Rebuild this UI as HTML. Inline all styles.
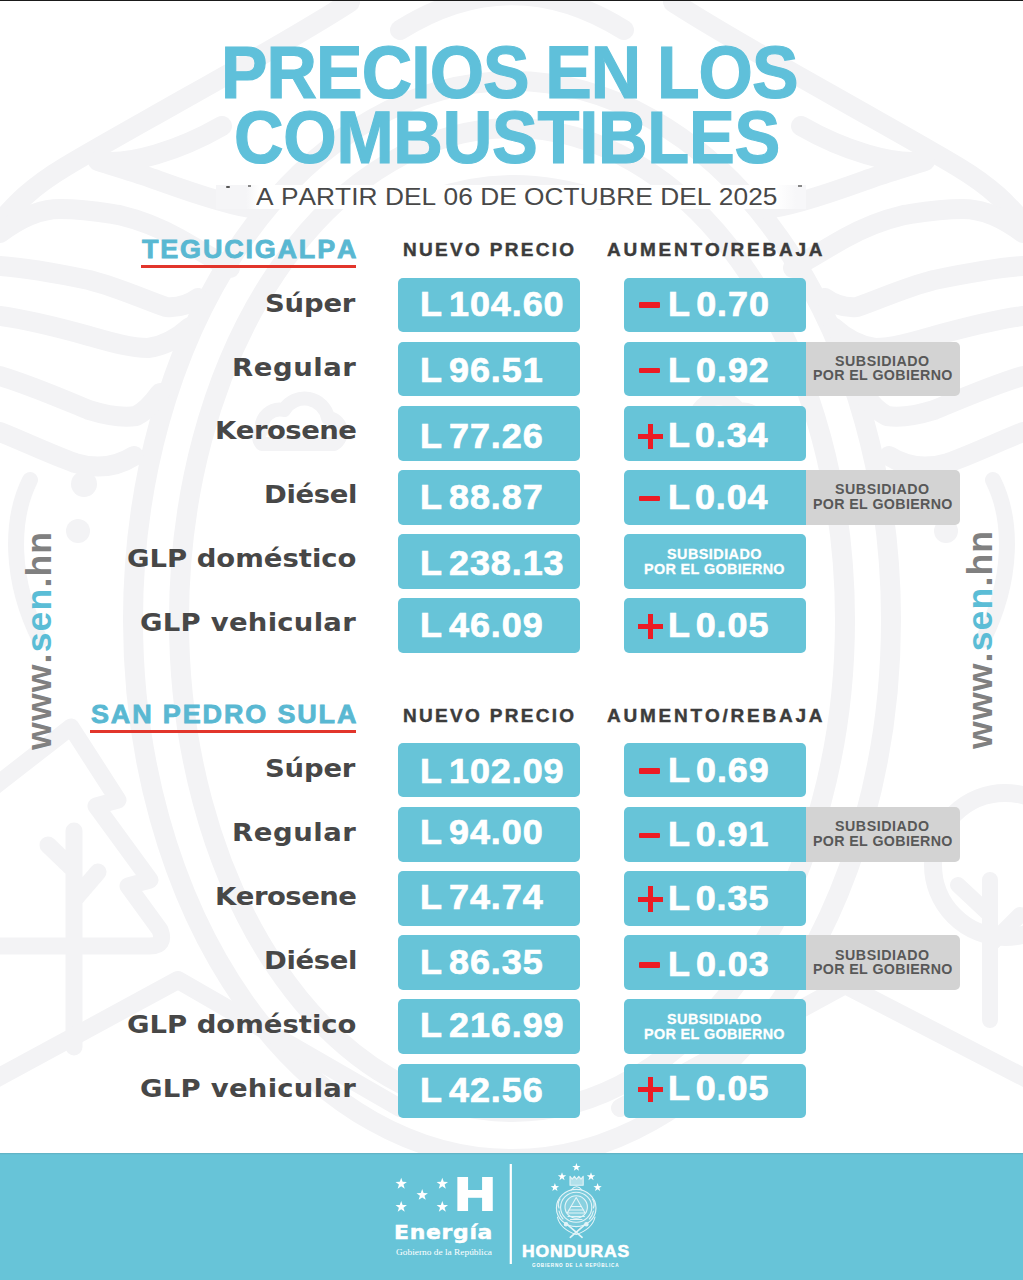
<!DOCTYPE html>
<html lang="es"><head><meta charset="utf-8"><title>Precios en los combustibles</title>
<style>
html,body{margin:0;padding:0}
body{width:1023px;height:1280px;position:relative;overflow:hidden;background:#fff;font-family:"Liberation Sans",sans-serif}
.t{position:absolute;white-space:nowrap;line-height:1;margin:0;padding:0;font-kerning:none;transform-origin:0 0}
.ls{font-family:"Liberation Sans",sans-serif;font-weight:400}
.lsb{font-family:"Liberation Sans",sans-serif;font-weight:700}
.djb{font-family:"DejaVu Sans","Liberation Sans",sans-serif;font-weight:700}
.dj{font-family:"DejaVu Sans","Liberation Sans",sans-serif;font-weight:400}
.ser{font-family:"Liberation Serif",serif;font-weight:400}
.bx{position:absolute;background:#67c4d8;border-radius:5px}
.gx{position:absolute;background:#d3d3d3;border-radius:0 5px 5px 0}
.rl{position:absolute;background:#e2352b}
.mn{position:absolute;background:#ec1c24}
.rot{position:absolute;width:0;height:0;transform:rotate(-90deg);transform-origin:0 0}
.wm{position:absolute;left:0;top:0}
.topline{position:absolute;left:0;top:0;width:1023px;height:1px;background:#1a1a1a}
.foot{position:absolute;left:0;top:1152.6px;width:1023px;height:128px;background:#67c4d8;box-shadow:inset 0 1.2px 0 #62b4c6}
</style></head><body>

<svg class="wm" width="1023" height="1280" viewBox="0 0 1023 1280">
<g fill="none" stroke="#f3f3f5" stroke-width="20" stroke-linecap="round" stroke-linejoin="round">
<ellipse cx="512" cy="620" rx="379" ry="539"/>
<ellipse cx="512" cy="620" rx="333" ry="492"/>
<g id="wmL">
<path d="M350 2 C310 28 250 62 184 99 C140 124 100 146 65 167 S15 205 0 222"/>
<path d="M222 126 C180 150 130 166 98 161 C120 168 140 174 154 179 S230 207 258 209"/>
<path d="M0 233 C20 218 40 209 60 209 C85 209 100 212 119 215 C140 220 160 228 178 238 S215 260 230 268"/>
<path d="M0 266 C30 268 60 274 89 280 C120 288 145 300 166 307 C180 308 190 304 198 298"/>
<path d="M0 316 C30 320 60 328 89 336 C110 342 130 348 148 348 C165 346 180 336 190 327"/>
<path d="M0 376 C30 385 60 398 89 410 C105 415 122 418 136 416 C148 410 155 400 160 393"/>
<path d="M0 432 C25 442 50 454 75 463 C95 469 115 468 134 456"/>
<path d="M262 430 a18 18 0 0 1 22 -20 a24 24 0 0 1 44 8 a14 14 0 0 1 6 26 h-72 a10 10 0 0 1 0 -14z" stroke-width="14"/>
<path d="M30 480 C10 520 10 580 40 640" stroke-width="16"/>
</g>
<use href="#wmL" transform="translate(1023 0) scale(-1 1)"/>
<path d="M-10 790 L71 727 L118 800 L96 806 L150 880 L128 886 L160 930 Q166 946 150 946 H-10" stroke-width="17"/>
<path d="M74 831 V1047 M74 870 L48 845 M74 900 L98 872" stroke-width="17"/>
<circle cx="1005" cy="865" r="72" stroke-width="18"/>
<path d="M990 880 V1020 M990 915 L958 885 M990 945 L1020 915" stroke-width="16"/>
<path d="M-10 1082 L178 980 L400 1108" stroke-width="18"/>
<path d="M620 1108 L845 985 L1033 1082" stroke-width="18"/>
<path d="M400 30 Q512 -40 624 30 M430 200 Q512 170 600 200" />
</g>
<g fill="#f3f3f5"><circle cx="84" cy="484" r="13"/><circle cx="78" cy="531" r="12"/><circle cx="940" cy="484" r="13"/><circle cx="946" cy="531" r="12"/></g>
</svg>
<div class="topline"></div>
<h1 class="t lsb" style="left:220.53px;top:36.06px;font-size:73.84px;color:#5fc0da;letter-spacing:-0.963px;transform:scale(0.9450,1.0000);word-spacing:-2.00px;-webkit-text-stroke:1.20px #5fc0da;">PRECIOS EN LOS</h1>
<h1 class="t lsb" style="left:234.28px;top:101.36px;font-size:73.84px;color:#5fc0da;letter-spacing:-0.298px;transform:scale(0.9300,1.0000);-webkit-text-stroke:1.20px #5fc0da;">COMBUSTIBLES</h1>
<div style="position:absolute;left:216px;top:185px;width:590px;height:24px;background:linear-gradient(90deg,#f5f5f7 0,#f5f5f7 30px,#fff 44px,#fff 560px,#f7f7f9 580px)"></div>
<div style="position:absolute;left:226px;top:185.5px;width:4px;height:2px;border-radius:1px;background:#555"></div><div style="position:absolute;left:248px;top:185px;width:3px;height:1.5px;background:#888"></div><div style="position:absolute;left:798px;top:185px;width:4px;height:1.5px;background:#888"></div>
<p class="t ls" style="left:255.55px;top:185.80px;font-size:23.26px;color:#484848;letter-spacing:0.042px;transform:scale(1.1300,1.0000);">A PARTIR DEL 06 DE OCTUBRE DEL 2025</p>
<!-- TEGUCIGALPA -->
<h2 class="t lsb" style="left:141.60px;top:236.66px;font-size:25.44px;color:#59b8d2;letter-spacing:1.716px;transform:scale(1.0600,1.0000);-webkit-text-stroke:0.80px #59b8d2;">TEGUCIGALPA</h2>
<div class="rl" style="left:141px;top:264.5px;width:215px;height:3px"></div>
<div class="t lsb" style="left:402.93px;top:242.30px;font-size:17.59px;color:#3c3c3c;letter-spacing:2.148px;transform:scale(1.0800,1.0000);-webkit-text-stroke:0.40px #3c3c3c;">NUEVO PRECIO</div>
<div class="t lsb" style="left:606.73px;top:242.30px;font-size:17.59px;color:#3c3c3c;letter-spacing:2.577px;transform:scale(1.0800,1.0000);-webkit-text-stroke:0.40px #3c3c3c;">AUMENTO/REBAJA</div>
<div class="bx" style="left:398.2px;top:277.5px;width:181.6px;height:54.8px"></div>
<div class="bx" style="left:623.7px;top:277.5px;width:182.2px;height:54.8px"></div>
<div class="t djb" style="left:265.23px;top:291.57px;font-size:24.97px;color:#474747;letter-spacing:-0.183px;transform:scale(1.1000,1.0000);">Súper</div>
<div class="t lsb" style="left:419.85px;top:286.70px;font-size:34.88px;color:#fff;letter-spacing:0.900px;transform:scale(1.0300,1.0000);word-spacing:-4.60px;-webkit-text-stroke:0.70px #fff;">L 104.60</div>
<div class="mn" style="left:639.4px;top:302.2px;width:20.3px;height:5.4px;border-radius:1px"></div>
<div class="t lsb" style="left:668.45px;top:286.70px;font-size:34.88px;color:#fff;letter-spacing:0.900px;transform:scale(1.0300,1.0000);word-spacing:-5.45px;-webkit-text-stroke:0.70px #fff;">L 0.70</div>
<div class="bx" style="left:398.2px;top:341.6px;width:181.6px;height:54.8px"></div>
<div class="bx" style="left:623.7px;top:341.6px;width:182.2px;height:54.8px;border-radius:5px 0 0 5px"></div>
<div class="t djb" style="left:231.68px;top:355.52px;font-size:24.97px;color:#474747;letter-spacing:0.520px;transform:scale(1.1000,1.0000);">Regular</div>
<div class="t lsb" style="left:419.85px;top:353.05px;font-size:34.88px;color:#fff;letter-spacing:0.900px;transform:scale(1.0300,1.0000);word-spacing:-4.60px;-webkit-text-stroke:0.70px #fff;">L 96.51</div>
<div class="mn" style="left:639.4px;top:368.1px;width:20.3px;height:5.4px;border-radius:1px"></div>
<div class="t lsb" style="left:668.45px;top:352.55px;font-size:34.88px;color:#fff;letter-spacing:0.900px;transform:scale(1.0300,1.0000);word-spacing:-5.49px;-webkit-text-stroke:0.70px #fff;">L 0.92</div>
<div class="gx" style="left:805.7px;top:341.6px;width:154px;height:54.8px"></div>
<div class="t lsb" style="left:835.39px;top:354.02px;font-size:14.68px;color:#585858;letter-spacing:0.551px;transform:scale(0.9700,1.0000);">SUBSIDIADO</div>
<div class="t lsb" style="left:812.75px;top:368.42px;font-size:14.68px;color:#585858;letter-spacing:0.365px;transform:scale(0.9700,1.0000);">POR EL GOBIERNO</div>
<div class="bx" style="left:398.2px;top:405.8px;width:181.6px;height:54.8px"></div>
<div class="bx" style="left:623.7px;top:405.8px;width:182.2px;height:54.8px"></div>
<div class="t djb" style="left:214.88px;top:419.47px;font-size:24.97px;color:#474747;letter-spacing:-0.457px;transform:scale(1.1000,1.0000);">Kerosene</div>
<div class="t lsb" style="left:419.85px;top:418.50px;font-size:34.88px;color:#fff;letter-spacing:0.900px;transform:scale(1.0300,1.0000);word-spacing:-4.60px;-webkit-text-stroke:0.70px #fff;">L 77.26</div>
<div class="mn" style="left:637.9px;top:434.2px;width:24.8px;height:5px"></div>
<div class="mn" style="left:647.8px;top:423.7px;width:5px;height:25.6px"></div>
<div class="t lsb" style="left:668.45px;top:417.90px;font-size:34.88px;color:#fff;letter-spacing:0.900px;transform:scale(1.0300,1.0000);word-spacing:-6.70px;-webkit-text-stroke:0.70px #fff;">L 0.34</div>
<div class="bx" style="left:398.2px;top:470.0px;width:181.6px;height:54.8px"></div>
<div class="bx" style="left:623.7px;top:470.0px;width:182.2px;height:54.8px;border-radius:5px 0 0 5px"></div>
<div class="t djb" style="left:264.38px;top:483.42px;font-size:24.97px;color:#474747;letter-spacing:-0.326px;transform:scale(1.1000,1.0000);">Diésel</div>
<div class="t lsb" style="left:419.85px;top:480.35px;font-size:34.88px;color:#fff;letter-spacing:0.900px;transform:scale(1.0300,1.0000);word-spacing:-4.60px;-webkit-text-stroke:0.70px #fff;">L 88.87</div>
<div class="mn" style="left:639.4px;top:495.6px;width:20.3px;height:5.4px;border-radius:1px"></div>
<div class="t lsb" style="left:668.45px;top:480.05px;font-size:34.88px;color:#fff;letter-spacing:0.900px;transform:scale(1.0300,1.0000);word-spacing:-6.70px;-webkit-text-stroke:0.70px #fff;">L 0.04</div>
<div class="gx" style="left:805.7px;top:470.0px;width:154px;height:54.8px"></div>
<div class="t lsb" style="left:835.39px;top:482.32px;font-size:14.68px;color:#585858;letter-spacing:0.551px;transform:scale(0.9700,1.0000);">SUBSIDIADO</div>
<div class="t lsb" style="left:812.75px;top:496.72px;font-size:14.68px;color:#585858;letter-spacing:0.365px;transform:scale(0.9700,1.0000);">POR EL GOBIERNO</div>
<div class="bx" style="left:398.2px;top:534.1px;width:181.6px;height:54.8px"></div>
<div class="bx" style="left:623.7px;top:534.1px;width:182.2px;height:54.8px"></div>
<div class="t djb" style="left:127.23px;top:547.37px;font-size:24.97px;color:#474747;letter-spacing:-0.006px;transform:scale(1.1000,1.0000);">GLP doméstico</div>
<div class="t lsb" style="left:419.85px;top:546.10px;font-size:34.88px;color:#fff;letter-spacing:0.900px;transform:scale(1.0300,1.0000);word-spacing:-4.60px;-webkit-text-stroke:0.70px #fff;">L 238.13</div>
<div class="t lsb" style="left:667.14px;top:547.27px;font-size:14.97px;color:#fff;letter-spacing:0.496px;transform:scale(0.9600,1.0000);-webkit-text-stroke:0.30px #fff;">SUBSIDIADO</div>
<div class="t lsb" style="left:644.29px;top:562.17px;font-size:14.97px;color:#fff;letter-spacing:0.358px;transform:scale(0.9600,1.0000);-webkit-text-stroke:0.30px #fff;">POR EL GOBIERNO</div>
<div class="bx" style="left:398.2px;top:598.2px;width:181.6px;height:54.8px"></div>
<div class="bx" style="left:623.7px;top:598.2px;width:182.2px;height:54.8px"></div>
<div class="t djb" style="left:139.93px;top:611.32px;font-size:24.97px;color:#474747;letter-spacing:0.236px;transform:scale(1.1000,1.0000);">GLP vehicular</div>
<div class="t lsb" style="left:419.85px;top:607.85px;font-size:34.88px;color:#fff;letter-spacing:0.900px;transform:scale(1.0300,1.0000);word-spacing:-4.60px;-webkit-text-stroke:0.70px #fff;">L 46.09</div>
<div class="mn" style="left:637.9px;top:624.1px;width:24.8px;height:5px"></div>
<div class="mn" style="left:647.8px;top:613.6px;width:5px;height:25.6px"></div>
<div class="t lsb" style="left:668.45px;top:607.85px;font-size:34.88px;color:#fff;letter-spacing:0.900px;transform:scale(1.0300,1.0000);word-spacing:-5.91px;-webkit-text-stroke:0.70px #fff;">L 0.05</div>
<!-- SAN PEDRO SULA -->
<h2 class="t lsb" style="left:90.62px;top:701.86px;font-size:25.44px;color:#59b8d2;letter-spacing:1.756px;transform:scale(1.0600,1.0000);-webkit-text-stroke:0.80px #59b8d2;">SAN PEDRO SULA</h2>
<div class="rl" style="left:90px;top:729.7px;width:266px;height:3px"></div>
<div class="t lsb" style="left:402.93px;top:707.50px;font-size:17.59px;color:#3c3c3c;letter-spacing:2.148px;transform:scale(1.0800,1.0000);-webkit-text-stroke:0.40px #3c3c3c;">NUEVO PRECIO</div>
<div class="t lsb" style="left:606.73px;top:707.50px;font-size:17.59px;color:#3c3c3c;letter-spacing:2.577px;transform:scale(1.0800,1.0000);-webkit-text-stroke:0.40px #3c3c3c;">AUMENTO/REBAJA</div>
<div class="bx" style="left:398.2px;top:742.7px;width:181.6px;height:54.8px"></div>
<div class="bx" style="left:623.7px;top:742.7px;width:182.2px;height:54.8px"></div>
<div class="t djb" style="left:265.23px;top:756.77px;font-size:24.97px;color:#474747;letter-spacing:-0.183px;transform:scale(1.1000,1.0000);">Súper</div>
<div class="t lsb" style="left:419.85px;top:753.70px;font-size:34.88px;color:#fff;letter-spacing:0.900px;transform:scale(1.0300,1.0000);word-spacing:-4.60px;-webkit-text-stroke:0.70px #fff;">L 102.09</div>
<div class="mn" style="left:639.4px;top:768.2px;width:20.3px;height:5.4px;border-radius:1px"></div>
<div class="t lsb" style="left:668.45px;top:752.70px;font-size:34.88px;color:#fff;letter-spacing:0.900px;transform:scale(1.0300,1.0000);word-spacing:-5.59px;-webkit-text-stroke:0.70px #fff;">L 0.69</div>
<div class="bx" style="left:398.2px;top:806.9px;width:181.6px;height:54.8px"></div>
<div class="bx" style="left:623.7px;top:806.9px;width:182.2px;height:54.8px;border-radius:5px 0 0 5px"></div>
<div class="t djb" style="left:231.68px;top:820.72px;font-size:24.97px;color:#474747;letter-spacing:0.520px;transform:scale(1.1000,1.0000);">Regular</div>
<div class="t lsb" style="left:419.85px;top:814.95px;font-size:34.88px;color:#fff;letter-spacing:0.900px;transform:scale(1.0300,1.0000);word-spacing:-4.60px;-webkit-text-stroke:0.70px #fff;">L 94.00</div>
<div class="mn" style="left:639.4px;top:832.8px;width:20.3px;height:5.4px;border-radius:1px"></div>
<div class="t lsb" style="left:668.45px;top:817.25px;font-size:34.88px;color:#fff;letter-spacing:0.900px;transform:scale(1.0300,1.0000);word-spacing:-5.91px;-webkit-text-stroke:0.70px #fff;">L 0.91</div>
<div class="gx" style="left:805.7px;top:806.9px;width:154px;height:54.8px"></div>
<div class="t lsb" style="left:835.39px;top:819.22px;font-size:14.68px;color:#585858;letter-spacing:0.551px;transform:scale(0.9700,1.0000);">SUBSIDIADO</div>
<div class="t lsb" style="left:812.75px;top:833.62px;font-size:14.68px;color:#585858;letter-spacing:0.365px;transform:scale(0.9700,1.0000);">POR EL GOBIERNO</div>
<div class="bx" style="left:398.2px;top:871.0px;width:181.6px;height:54.8px"></div>
<div class="bx" style="left:623.7px;top:871.0px;width:182.2px;height:54.8px"></div>
<div class="t djb" style="left:214.88px;top:884.67px;font-size:24.97px;color:#474747;letter-spacing:-0.457px;transform:scale(1.1000,1.0000);">Kerosene</div>
<div class="t lsb" style="left:419.85px;top:879.60px;font-size:34.88px;color:#fff;letter-spacing:0.900px;transform:scale(1.0300,1.0000);word-spacing:-4.60px;-webkit-text-stroke:0.70px #fff;">L 74.74</div>
<div class="mn" style="left:637.9px;top:896.8px;width:24.8px;height:5px"></div>
<div class="mn" style="left:647.8px;top:886.3px;width:5px;height:25.6px"></div>
<div class="t lsb" style="left:668.45px;top:880.50px;font-size:34.88px;color:#fff;letter-spacing:0.900px;transform:scale(1.0300,1.0000);word-spacing:-5.91px;-webkit-text-stroke:0.70px #fff;">L 0.35</div>
<div class="bx" style="left:398.2px;top:935.2px;width:181.6px;height:54.8px"></div>
<div class="bx" style="left:623.7px;top:935.2px;width:182.2px;height:54.8px;border-radius:5px 0 0 5px"></div>
<div class="t djb" style="left:264.38px;top:948.62px;font-size:24.97px;color:#474747;letter-spacing:-0.326px;transform:scale(1.1000,1.0000);">Diésel</div>
<div class="t lsb" style="left:419.85px;top:945.05px;font-size:34.88px;color:#fff;letter-spacing:0.900px;transform:scale(1.0300,1.0000);word-spacing:-4.60px;-webkit-text-stroke:0.70px #fff;">L 86.35</div>
<div class="mn" style="left:639.4px;top:962.2px;width:20.3px;height:5.4px;border-radius:1px"></div>
<div class="t lsb" style="left:668.45px;top:946.65px;font-size:34.88px;color:#fff;letter-spacing:0.900px;transform:scale(1.0300,1.0000);word-spacing:-5.63px;-webkit-text-stroke:0.70px #fff;">L 0.03</div>
<div class="gx" style="left:805.7px;top:935.2px;width:154px;height:54.8px"></div>
<div class="t lsb" style="left:835.39px;top:947.52px;font-size:14.68px;color:#585858;letter-spacing:0.551px;transform:scale(0.9700,1.0000);">SUBSIDIADO</div>
<div class="t lsb" style="left:812.75px;top:961.92px;font-size:14.68px;color:#585858;letter-spacing:0.365px;transform:scale(0.9700,1.0000);">POR EL GOBIERNO</div>
<div class="bx" style="left:398.2px;top:999.3px;width:181.6px;height:54.8px"></div>
<div class="bx" style="left:623.7px;top:999.3px;width:182.2px;height:54.8px"></div>
<div class="t djb" style="left:127.23px;top:1012.57px;font-size:24.97px;color:#474747;letter-spacing:-0.006px;transform:scale(1.1000,1.0000);">GLP doméstico</div>
<div class="t lsb" style="left:419.85px;top:1008.20px;font-size:34.88px;color:#fff;letter-spacing:0.900px;transform:scale(1.0300,1.0000);word-spacing:-4.60px;-webkit-text-stroke:0.70px #fff;">L 216.99</div>
<div class="t lsb" style="left:667.14px;top:1011.87px;font-size:14.97px;color:#fff;letter-spacing:0.496px;transform:scale(0.9600,1.0000);-webkit-text-stroke:0.30px #fff;">SUBSIDIADO</div>
<div class="t lsb" style="left:644.29px;top:1026.77px;font-size:14.97px;color:#fff;letter-spacing:0.358px;transform:scale(0.9600,1.0000);-webkit-text-stroke:0.30px #fff;">POR EL GOBIERNO</div>
<div class="bx" style="left:398.2px;top:1063.5px;width:181.6px;height:54.8px"></div>
<div class="bx" style="left:623.7px;top:1063.5px;width:182.2px;height:54.8px"></div>
<div class="t djb" style="left:139.93px;top:1076.52px;font-size:24.97px;color:#474747;letter-spacing:0.236px;transform:scale(1.1000,1.0000);">GLP vehicular</div>
<div class="t lsb" style="left:419.85px;top:1072.75px;font-size:34.88px;color:#fff;letter-spacing:0.900px;transform:scale(1.0300,1.0000);word-spacing:-4.60px;-webkit-text-stroke:0.70px #fff;">L 42.56</div>
<div class="mn" style="left:637.9px;top:1087.2px;width:24.8px;height:5px"></div>
<div class="mn" style="left:647.8px;top:1076.8px;width:5px;height:25.6px"></div>
<div class="t lsb" style="left:668.45px;top:1070.95px;font-size:34.88px;color:#fff;letter-spacing:0.900px;transform:scale(1.0300,1.0000);word-spacing:-5.91px;-webkit-text-stroke:0.70px #fff;">L 0.05</div>
<!--SIDE-->
<div class="rot" style="left:51.8px;top:749.6px"><div class="t lsb" style="left:0.10px;top:-30.15px;font-size:35.6px;letter-spacing:1.157px;color:#808080">www.<span style="color:#5bbdd6">sen</span>.hn</div></div>
<div class="rot" style="left:993.1px;top:748.6px"><div class="t lsb" style="left:0.10px;top:-30.15px;font-size:35.6px;letter-spacing:1.157px;color:#808080">www.<span style="color:#5bbdd6">sen</span>.hn</div></div>
<div class="foot"></div>
<!--FOOT-->
<svg class="wm" width="1023" height="1280" viewBox="0 0 1023 1280" style="pointer-events:none">
<g fill="#fff"><polygon points="401.20,1177.80 402.61,1181.86 406.91,1181.95 403.48,1184.54 404.73,1188.65 401.20,1186.20 397.67,1188.65 398.92,1184.54 395.49,1181.95 399.79,1181.86"/><polygon points="442.30,1177.80 443.71,1181.86 448.01,1181.95 444.58,1184.54 445.83,1188.65 442.30,1186.20 438.77,1188.65 440.02,1184.54 436.59,1181.95 440.89,1181.86"/><polygon points="422.20,1189.00 423.61,1193.06 427.91,1193.15 424.48,1195.74 425.73,1199.85 422.20,1197.40 418.67,1199.85 419.92,1195.74 416.49,1193.15 420.79,1193.06"/><polygon points="401.20,1200.90 402.61,1204.96 406.91,1205.05 403.48,1207.64 404.73,1211.75 401.20,1209.30 397.67,1211.75 398.92,1207.64 395.49,1205.05 399.79,1204.96"/><polygon points="442.30,1200.90 443.71,1204.96 448.01,1205.05 444.58,1207.64 445.83,1211.75 442.30,1209.30 438.77,1211.75 440.02,1207.64 436.59,1205.05 440.89,1204.96"/><polygon points="576.40,1162.90 577.43,1165.88 580.58,1165.94 578.07,1167.84 578.99,1170.86 576.40,1169.06 573.81,1170.86 574.73,1167.84 572.22,1165.94 575.37,1165.88"/><polygon points="562.00,1172.20 563.03,1175.18 566.18,1175.24 563.67,1177.14 564.59,1180.16 562.00,1178.36 559.41,1180.16 560.33,1177.14 557.82,1175.24 560.97,1175.18"/><polygon points="591.00,1172.20 592.03,1175.18 595.18,1175.24 592.67,1177.14 593.59,1180.16 591.00,1178.36 588.41,1180.16 589.33,1177.14 586.82,1175.24 589.97,1175.18"/><polygon points="554.90,1183.10 555.93,1186.08 559.08,1186.14 556.57,1188.04 557.49,1191.06 554.90,1189.26 552.31,1191.06 553.23,1188.04 550.72,1186.14 553.87,1186.08"/><polygon points="597.60,1183.10 598.63,1186.08 601.78,1186.14 599.27,1188.04 600.19,1191.06 597.60,1189.26 595.01,1191.06 595.93,1188.04 593.42,1186.14 596.57,1186.08"/></g>
<rect x="509.7" y="1164" width="2.2" height="100" fill="#fff"/>
<g fill="none" stroke="#fff" stroke-width="1.1" opacity=".82" stroke-linecap="round" stroke-linejoin="round">
<path d="M570 1185.3 L570 1176.3 L572.2 1179.2 L574.4 1176.3 L576.6 1179.2 L578.8 1176.3 L581 1179.2 L583.2 1176.3 L583.2 1185.3 Z" fill="#fff" fill-opacity=".6"/>
<path d="M571.2 1190 Q576.6 1183.5 582 1190"/>
<ellipse cx="576.2" cy="1208" rx="19.8" ry="18.6" fill="#fff" fill-opacity=".16"/>
<ellipse cx="576.2" cy="1207.2" rx="15.6" ry="15"/>
<circle cx="576.2" cy="1207" r="11.2" fill="#fff" fill-opacity=".14"/>
<path d="M576.2 1197.5 L567.3 1213 L585.1 1213 Z"/>
<path d="M571 1206.5 H581.4 M569 1210 H583.4 M568 1216.5 H584.4 M570.5 1219.5 H582"/>
<path d="M560 1199 q-3 4 -1 9 M592.4 1199 q3 4 1 9 M559 1211 q1 5 4 8 M593.4 1211 q-1 5 -4 8"/>
<path d="M557.4 1217 Q560 1229 576.2 1234.5 Q592.4 1229 595 1217"/>
<path d="M570.3 1237.3 L586.4 1223.3 M582.1 1237.3 L566 1223.3" stroke-width="1.7"/>
<circle cx="566" cy="1224.3" r="1.7" fill="#fff"/><circle cx="586.4" cy="1224.3" r="1.7" fill="#fff"/>
</g>
</svg>
<div class="t lsb" style="left:454.68px;top:1170.66px;font-size:46.80px;color:#fff;letter-spacing:0.000px;transform:scale(1.1885,1.0000);-webkit-text-stroke:2.20px #fff;">H</div>
<div class="t djb" style="left:393.94px;top:1222.51px;font-size:19.89px;color:#fff;letter-spacing:0.659px;transform:scale(1.1000,1.0000);-webkit-text-stroke:0.50px #fff;">Energía</div>
<div class="t ser" style="left:395.52px;top:1247.62px;font-size:9.01px;color:#fff;letter-spacing:0.000px;transform:scale(1.0413,1.0000);">Gobierno de la República</div>
<div class="t lsb" style="left:522.13px;top:1242.70px;font-size:17.01px;color:#fff;letter-spacing:0.839px;transform:scale(1.0300,1.0000);-webkit-text-stroke:0.60px #fff;">HONDURAS</div>
<div class="t lsb" style="left:532.41px;top:1262.88px;font-size:9.00px;color:#fff;letter-spacing:1.429px;transform:scale(0.5200,0.5006);">GOBIERNO DE LA REPÚBLICA</div>
</body></html>
